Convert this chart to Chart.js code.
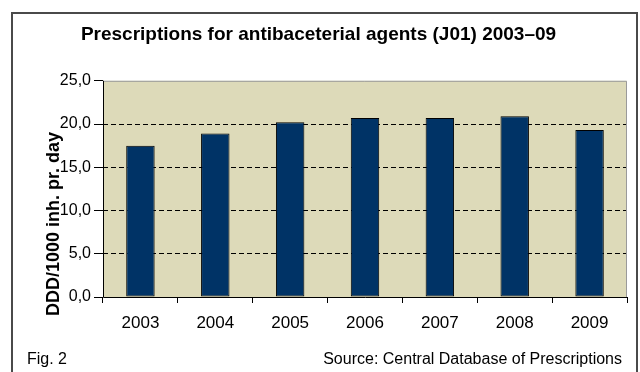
<!DOCTYPE html>
<html>
<head>
<meta charset="utf-8">
<script src="https://cdn.jsdelivr.net/npm/chart.js@4"></script>
<style>
  html, body { margin: 0; padding: 0; background: #fff; }
  #wrap { width: 640px; height: 372px; }
</style>
</head>
<body>
<div id="wrap"><canvas id="barChart" width="640" height="372"></canvas></div>
<script>
// データ
const years = ['2003', '2004', '2005', '2006', '2007', '2008', '2009'];
const dddValues = [17.5, 18.9, 20.2, 20.7, 20.7, 20.9, 19.3];
const yTicks = [0, 5, 10, 15, 20, 25];

const titleText = 'Prescriptions for antibaceterial agents (J01) 2003\u201309';
const yTitleText = 'DDD/1000 inh. pr. day';
const figText = 'Fig. 2';
const sourceText = 'Source: Central Database of Prescriptions';

const baseFont = '"Liberation Sans", Arial, sans-serif';

// 背景・枠・注記を描くプラグイン
const framePlugin = {
    id: 'frame',
    beforeDraw(chart) {
        const c = chart.ctx;
        const a = chart.chartArea;
        c.save();
        c.fillStyle = '#fff';
        c.fillRect(0, 0, chart.width, chart.height);
        c.strokeStyle = '#4a4a4a';
        c.lineWidth = 2;
        c.strokeRect(12, 13, 625, 380);
        c.fillStyle = '#dddab9';
        c.fillRect(a.left, a.top, a.right - a.left, a.bottom - a.top);
        c.restore();
    },
    afterDraw(chart) {
        const c = chart.ctx;
        const a = chart.chartArea;
        c.save();
        c.strokeStyle = '#9a9a9a';
        c.lineWidth = 1;
        c.beginPath();
        c.moveTo(a.left, a.top + 0.5);
        c.lineTo(a.right - 0.5, a.top + 0.5);
        c.lineTo(a.right - 0.5, a.bottom);
        c.stroke();

        // 軸線（実線）
        c.strokeStyle = '#000';
        c.beginPath();
        c.moveTo(a.left + 0.5, a.top);
        c.lineTo(a.left + 0.5, a.bottom + 0.5);
        c.lineTo(a.right, a.bottom + 0.5);
        c.stroke();

        // y軸タイトル
        c.fillStyle = '#000';
        c.font = 'bold 18px ' + baseFont;
        c.textAlign = 'center';
        c.textBaseline = 'middle';
        c.translate(54, 224);
        c.rotate(-Math.PI / 2);
        c.fillText(yTitleText, 0, 0);
        c.restore();

        c.save();
        c.fillStyle = '#000';
        c.font = '16px ' + baseFont;
        c.textBaseline = 'middle';
        c.textAlign = 'left';
        c.fillText(figText, 27, 360);
        c.textAlign = 'right';
        c.fillText(sourceText, 622, 360);
        c.restore();
    }
};

const ctx = document.getElementById('barChart');
new Chart(ctx, {
    type: 'bar',
    data: {
        labels: years,
        datasets: [{
            data: dddValues,
            backgroundColor: '#003366',
            borderColor: '#000',
            borderWidth: 1,
            borderSkipped: false,
            categoryPercentage: 1,
            barPercentage: 0.38
        }]
    },
    options: {
        responsive: false,
        animation: false,
        devicePixelRatio: 1,
        layout: { padding: { left: 10, right: 13, top: 0, bottom: 35 } },
        scales: {
            x: {
                offset: true,
                grid: {
                    offset: true,
                    drawOnChartArea: false,
                    drawTicks: true,
                    tickLength: 6,
                    tickColor: '#000'
                },
                border: { display: false },
                ticks: {
                    color: '#000',
                    padding: 10,
                    font: { family: baseFont, size: 17 }
                },
                afterFit(scale) { scale.height = 40; }
            },
            y: {
                min: 0,
                max: 25,
                afterBuildTicks(scale) { scale.ticks = yTicks.map(v => ({ value: v })); },
                grid: {
                    color: c => (c.tick && (c.tick.value === 0 || c.tick.value === 25)) ? 'rgba(0,0,0,0)' : '#000',
                    tickBorderDash: [],
                    tickColor: '#000',
                    tickLength: 9,
                    lineWidth: 1
                },
                border: { display: false, dash: [5, 3] },
                ticks: {
                    color: '#000',
                    padding: 3,
                    font: { family: baseFont, size: 16 },
                    callback: v => v.toFixed(1).replace('.', ',')
                },
                afterFit(scale) { scale.width = 93; }
            }
        },
        plugins: {
            legend: { display: false },
            tooltip: { enabled: false },
            title: {
                display: true,
                text: titleText,
                color: '#000',
                font: { family: baseFont, size: 19, weight: 'bold' },
                padding: { top: 23, bottom: 35 }
            }
        }
    },
    plugins: [framePlugin]
});
</script>
</body>
</html>
